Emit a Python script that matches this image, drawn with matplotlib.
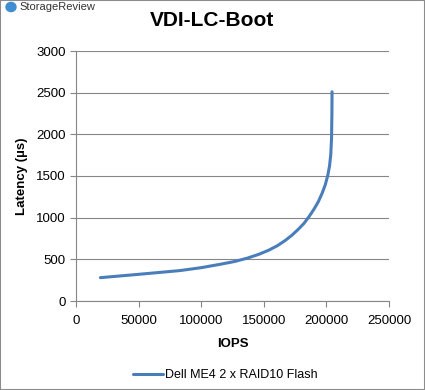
import matplotlib
matplotlib.use('Agg')
import matplotlib.pyplot as plt
from matplotlib.patches import Rectangle, Circle

# data
iops = [19500, 50000, 83000, 100000, 115000, 127000, 137000, 146000, 154000,
        161000, 167000, 172500, 177500, 182000, 186000, 190000, 193500,
        196500, 199000, 201000, 202500, 203500, 204100, 204400, 204500]
latency = [280, 320, 365, 400, 440, 475, 515, 560, 610,
           665, 725, 790, 860, 930, 1010, 1100, 1190,
           1290, 1390, 1500, 1620, 1760, 1950, 2250, 2510]
series_name = 'Dell ME4 2 x RAID10 Flash'
x_ticks = [0, 50000, 100000, 150000, 200000, 250000]
y_ticks = [0, 500, 1000, 1500, 2000, 2500, 3000]

plt.rcParams['font.family'] = ['Liberation Sans', 'DejaVu Sans']

W, H = 425, 390
fig = plt.figure(figsize=(W / 100, H / 100), dpi=100)
# plot area in pixels: left 76, right 389, top 51, bottom 301
ax = fig.add_axes([76 / W, 1 - 301 / H, (389 - 76) / W, (301 - 51) / H])

grid_color = '#868686'
ax.plot(iops, latency, color='#4A7EBB', linewidth=2.2, label=series_name,
        solid_capstyle='round', solid_joinstyle='round')
ax.set_xlim(0, 250000)
ax.set_ylim(0, 3000)
ax.set_xticks(x_ticks)
ax.set_yticks(y_ticks)
ax.grid(axis='y', color=grid_color, linewidth=0.8)
ax.set_axisbelow(True)
for s in ['top', 'right']:
    ax.spines[s].set_visible(False)
for s in ['left', 'bottom']:
    ax.spines[s].set_color(grid_color)
    ax.spines[s].set_linewidth(0.8)
ax.tick_params(colors=grid_color, labelcolor='black', labelsize=9.5,
               length=4, width=0.8, direction='out')
ax.tick_params(axis='x', pad=6)
ax.set_xlabel('IOPS', fontsize=9.5, fontweight='bold', labelpad=8)
ax.set_ylabel('Latency (µs)', fontsize=9.5, fontweight='bold', labelpad=6)

fig.text(0.5, 1 - 20 / H, 'VDI-LC-Boot', ha='center', va='center',
         fontsize=15, fontweight='bold')

# small logo text in the corner
fig.patches.append(Circle((11 / W, 1 - 7 / H), 5 / W, color='#3D8FD1',
                          transform=fig.transFigure, figure=fig))
fig.text(19 / W, 1 - 7 / H, 'StorageReview', ha='left', va='center',
         fontsize=8, color='#333333')

leg = fig.legend(loc='center', bbox_to_anchor=(0.53, 1 - 375 / H), frameon=False,
                 fontsize=9, handlelength=2.4, handletextpad=0.2)

# outer border
fig.patches.append(Rectangle((0, 0), 1, 1, transform=fig.transFigure, fill=False,
                             edgecolor='#8C8C8C', linewidth=1.5, figure=fig))

fig.savefig('out.png', dpi=100)
